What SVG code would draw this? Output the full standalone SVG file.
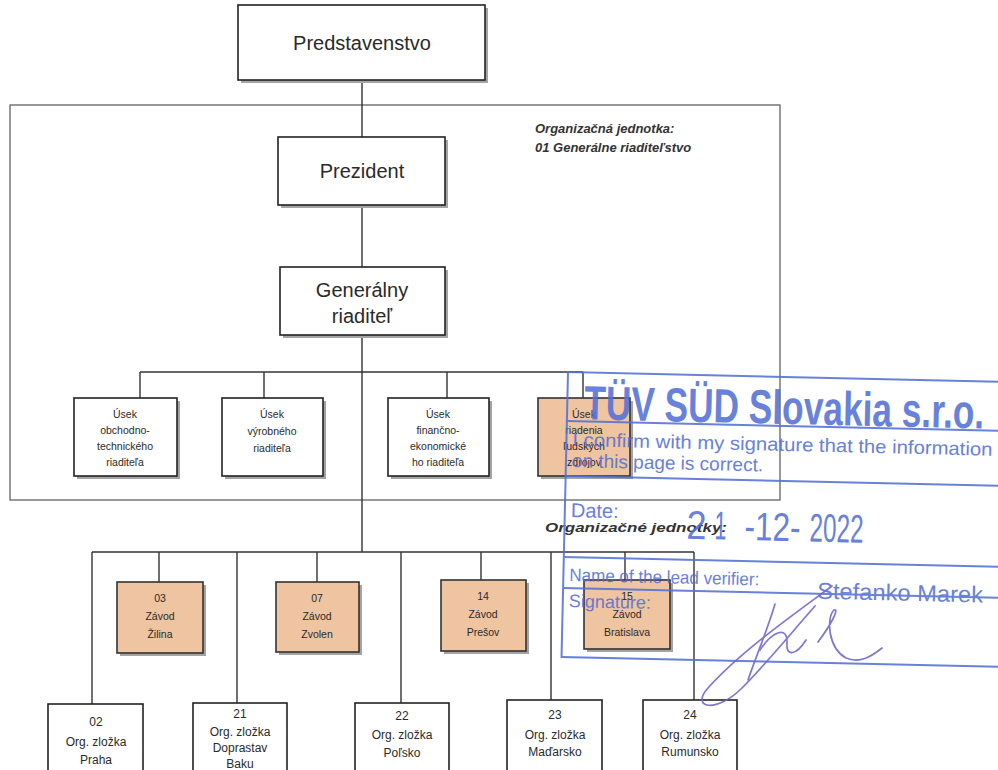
<svg xmlns="http://www.w3.org/2000/svg" width="998" height="770" viewBox="0 0 998 770">
<style>
.box{fill:#fff;stroke:#222;stroke-width:1.6}
.obox{fill:#efc4a0;stroke:#333;stroke-width:1.6}
.sh{fill:#a4a4a4}
.t{font-family:"Liberation Sans",Arial,sans-serif;fill:#2a2a2a;text-anchor:middle}
.big{font-size:20px}
.sm{font-size:10.5px}
.md{font-size:12px}
.it{font-family:"Liberation Sans",Arial,sans-serif;font-weight:bold;font-style:italic;fill:#333;font-size:13px}
.c line{stroke:#333;stroke-width:1.4}
.st{font-family:"Liberation Sans",Arial,sans-serif;fill:#5470d6}
.sl{stroke:#5470d6;stroke-width:2;fill:none}
</style>
<rect width="998" height="770" fill="#fff"/>
<rect x="10" y="105" width="770" height="395" fill="none" stroke="#555" stroke-width="1.2"/>
<text class="it" x="535" y="133">Organizačná jednotka:</text>
<text class="it" x="535" y="152">01 Generálne riaditeľstvo</text>
<text class="it" x="545" y="532" font-size="14" textLength="182" lengthAdjust="spacingAndGlyphs">Organizačné jednotky:</text>

<g class="c" id="connectors">
<line x1="362" y1="80" x2="362" y2="137"/>
<line x1="362" y1="205" x2="362" y2="267"/>
<line x1="362" y1="335" x2="362" y2="552"/>
<line x1="140" y1="372" x2="583" y2="372"/>
<line x1="140" y1="372" x2="140" y2="398"/>
<line x1="264" y1="372" x2="264" y2="398"/>
<line x1="447" y1="372" x2="447" y2="398"/>
<line x1="583" y1="372" x2="583" y2="398"/>
<line x1="92" y1="552" x2="694" y2="552"/>
<line x1="92" y1="552" x2="92" y2="704"/>
<line x1="237" y1="552" x2="237" y2="703"/>
<line x1="401" y1="552" x2="401" y2="703"/>
<line x1="551" y1="552" x2="551" y2="700"/>
<line x1="694" y1="552" x2="694" y2="700"/>
<line x1="159" y1="552" x2="159" y2="582"/>
<line x1="317" y1="552" x2="317" y2="582"/>
<line x1="481" y1="552" x2="481" y2="580"/>
<line x1="625" y1="552" x2="625" y2="580"/>
</g>

<g id="predstavenstvo"><rect class="sh" x="241" y="8" width="247" height="75"/><rect class="box" x="238" y="5" width="247" height="75"/><text class="t big" x="362" y="50">Predstavenstvo</text></g>
<g id="prezident"><rect class="sh" x="281" y="140" width="167" height="68"/><rect class="box" x="278" y="137" width="167" height="68"/><text class="t big" x="362" y="178">Prezident</text></g>
<g id="generalny"><rect class="sh" x="283" y="270" width="165" height="68"/><rect class="box" x="280" y="267" width="165" height="68"/><text class="t big" x="362" y="297">Generálny</text><text class="t big" x="362" y="323">riaditeľ</text></g>

<g id="usek1"><rect class="sh" x="77" y="401" width="103" height="78"/><rect class="box" x="74" y="398" width="103" height="78"/><text class="t sm" x="125" y="418">Úsek</text><text class="t sm" x="125" y="434">obchodno-</text><text class="t sm" x="125" y="450">technického</text><text class="t sm" x="125" y="466">riaditeľa</text></g>
<g id="usek2"><rect class="sh" x="225" y="401" width="101" height="78"/><rect class="box" x="222" y="398" width="101" height="78"/><text class="t sm" x="272" y="418">Úsek</text><text class="t sm" x="272" y="435">výrobného</text><text class="t sm" x="272" y="452">riaditeľa</text></g>
<g id="usek3"><rect class="sh" x="391" y="401" width="101" height="78"/><rect class="box" x="388" y="398" width="101" height="78"/><text class="t sm" x="438" y="418">Úsek</text><text class="t sm" x="438" y="434">finančno-</text><text class="t sm" x="438" y="450">ekonomické</text><text class="t sm" x="438" y="466">ho riaditeľa</text></g>
<g id="usek4"><rect class="sh" x="541" y="401" width="92" height="78"/><rect class="obox" x="538" y="398" width="92" height="78"/><text class="t sm" x="584" y="418">Úsek</text><text class="t sm" x="584" y="434">riadenia</text><text class="t sm" x="584" y="450">ľudských</text><text class="t sm" x="584" y="466">zdrojov</text></g>

<g id="zilina"><rect class="sh" x="120" y="585" width="86" height="71"/><rect class="obox" x="117" y="582" width="86" height="71"/><text class="t sm" x="160" y="602">03</text><text class="t sm" x="160" y="620">Závod</text><text class="t sm" x="160" y="638">Žilina</text></g>
<g id="zvolen"><rect class="sh" x="279" y="585" width="83" height="70"/><rect class="obox" x="276" y="582" width="83" height="70"/><text class="t sm" x="317" y="602">07</text><text class="t sm" x="317" y="620">Závod</text><text class="t sm" x="317" y="638">Zvolen</text></g>
<g id="presov"><rect class="sh" x="444" y="583" width="85" height="71"/><rect class="obox" x="441" y="580" width="85" height="71"/><text class="t sm" x="483" y="600">14</text><text class="t sm" x="483" y="618">Závod</text><text class="t sm" x="483" y="636">Prešov</text></g>
<g id="bratislava"><rect class="sh" x="587" y="583" width="86" height="69"/><rect class="obox" x="584" y="580" width="86" height="69"/><text class="t sm" x="627" y="600">15</text><text class="t sm" x="627" y="618">Závod</text><text class="t sm" x="627" y="636">Bratislava</text></g>

<g id="praha"><rect class="box" x="48" y="704" width="95" height="75" stroke-width="2.2"/><text class="t md" x="96" y="726">02</text><text class="t md" x="96" y="746">Org. zložka</text><text class="t md" x="96" y="764">Praha</text></g>
<g id="baku"><rect class="box" x="193" y="703" width="94" height="75"/><text class="t md" x="240" y="718">21</text><text class="t md" x="240" y="736">Org. zložka</text><text class="t md" x="240" y="752">Doprastav</text><text class="t md" x="240" y="768">Baku</text></g>
<g id="polsko"><rect class="box" x="355" y="703" width="94" height="75"/><text class="t md" x="402" y="720">22</text><text class="t md" x="402" y="739">Org. zložka</text><text class="t md" x="402" y="757">Poľsko</text></g>
<g id="madarsko"><rect class="box" x="507" y="700" width="95" height="75"/><text class="t md" x="555" y="719">23</text><text class="t md" x="555" y="739">Org. zložka</text><text class="t md" x="555" y="756">Maďarsko</text></g>
<g id="rumunsko"><rect class="box" x="643" y="700" width="94" height="75"/><text class="t md" x="690" y="719">24</text><text class="t md" x="690" y="739">Org. zložka</text><text class="t md" x="690" y="756">Rumunsko</text></g>

<g id="stamp" opacity="0.88" transform="rotate(1.3 568 372)">
<rect class="sl" x="568" y="372" width="470" height="285"/>
<text class="st" x="585" y="419" font-size="48" font-weight="bold" textLength="400" lengthAdjust="spacingAndGlyphs">TÜV SÜD Slovakia s.r.o.</text>
<line class="sl" x1="568" y1="421" x2="1038" y2="421"/>
<text class="st" x="574" y="446" font-size="19" textLength="420" lengthAdjust="spacingAndGlyphs">I confirm with my signature that the information</text>
<text class="st" x="574" y="467" font-size="19">on this page is correct.</text>
<line class="sl" x1="568" y1="476" x2="1038" y2="476"/>
<text class="st" x="574" y="517" font-size="20">Date:</text>
<text class="st" x="690" y="536" font-size="40" textLength="20" lengthAdjust="spacingAndGlyphs">2</text>
<text class="st" x="718" y="536" font-size="40" textLength="12" lengthAdjust="spacingAndGlyphs">1</text>
<text class="st" x="748" y="536" font-size="40" textLength="56" lengthAdjust="spacingAndGlyphs">-12-</text>
<text class="st" x="813" y="536" font-size="40" textLength="54" lengthAdjust="spacingAndGlyphs">2022</text>
<line class="sl" x1="568" y1="557" x2="1038" y2="557"/>
<text class="st" x="574" y="581" font-size="18" textLength="190" lengthAdjust="spacingAndGlyphs">Name of the lead verifier:</text>
<text class="st" x="822" y="593" font-size="23" textLength="166" lengthAdjust="spacingAndGlyphs">Stefanko Marek</text>
<line class="sl" x1="568" y1="588" x2="1038" y2="588"/>
<text class="st" x="574" y="607" font-size="18">Signature:</text>
</g>
<g id="signature" fill="none" stroke="#7468cf" stroke-width="1.7" stroke-linecap="round" opacity="0.9">
<path d="M832 586 C800 610 742 650 708 688 C690 708 716 714 742 688 C766 664 792 632 815 606"/>
<path d="M775 604 C768 628 757 654 748 680"/>
<path d="M760 650 C772 632 788 624 787 644 C786 656 796 656 806 640"/>
<path d="M818 642 C830 626 840 608 834 610 C826 618 828 648 846 658 C860 664 872 656 882 648"/>
</g>
</svg>
